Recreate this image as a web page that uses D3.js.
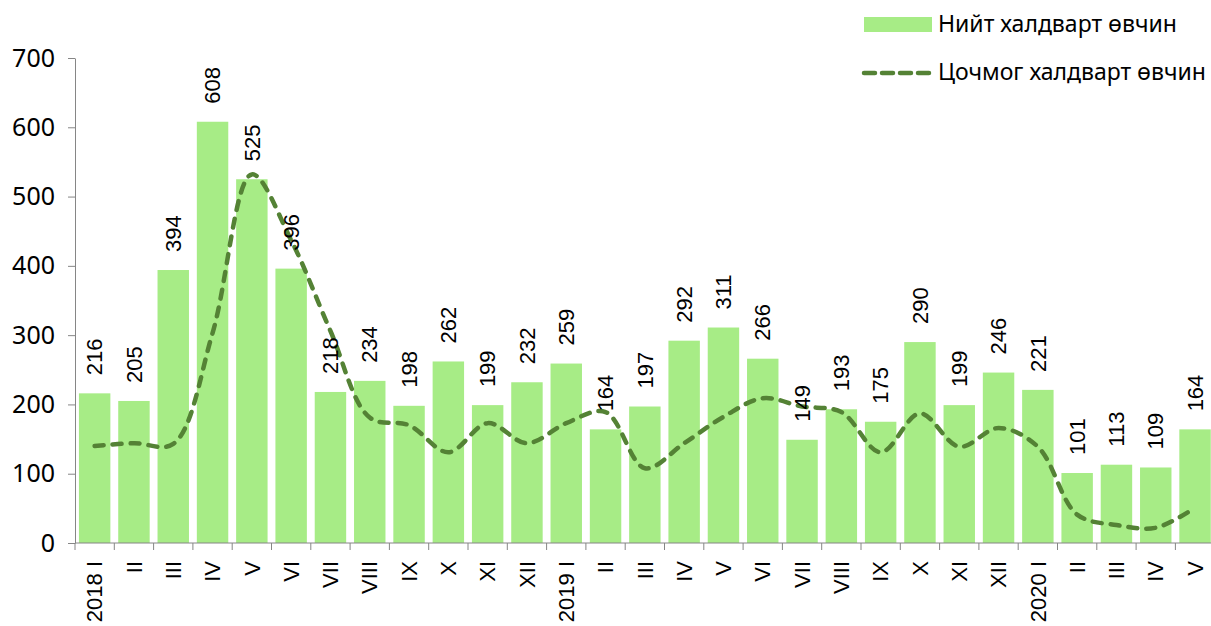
<!DOCTYPE html>
<head>
    <meta charset="utf-8">
    <title>Халдварт өвчин</title>
    <script src="https://d3js.org/d3.v7.min.js"></script>
</head>
<style>
body {
    margin: 0;
    background: #fff;
}
.axis path, .axis line {
    stroke: #868686;
    stroke-width: 1px;
}
</style>
<body>
    <svg></svg>
</body>
<script>
    // Categories (months)
    var vMonths = ['2018 I', 'II', 'III', 'IV', 'V', 'VI', 'VII', 'VIII', 'IX', 'X', 'XI', 'XII',
                   '2019 I', 'II', 'III', 'IV', 'V', 'VI', 'VII', 'VIII', 'IX', 'X', 'XI', 'XII',
                   '2020 I', 'II', 'III', 'IV', 'V'];
    // Total infectious disease (bars)
    var vTotal = [216, 205, 394, 608, 525, 396, 218, 234, 198, 262, 199, 232,
                  259, 164, 197, 292, 311, 266, 149, 193, 175, 290, 199, 246,
                  221, 101, 113, 109, 164];
    // Acute infectious disease (dashed line)
    var vAcute = [140, 144, 143, 303, 532, 437, 306, 181, 170, 131, 173, 144,
                  173, 189, 108, 144, 182, 209, 197, 189, 131, 187, 139, 166,
                  139, 41, 26, 22, 51];
    var vTicks = [0, 100, 200, 300, 400, 500, 600, 700];
    var vLegend = ['Нийт халдварт өвчин', 'Цочмог халдварт өвчин'];

    var vWidth = 1211;
    var vHeight = 626;
    var vBarColor = '#a7ec86';
    var vLineColor = '#548235';
    var vFont = "'Liberation Sans', Arial, sans-serif";
    var vFont2 = "'Noto Sans', 'Open Sans', sans-serif";

    var svg = d3.select('svg')
        .attr('width', vWidth)
        .attr('height', vHeight);

    var x = d3.scaleBand()
        .domain(d3.range(vMonths.length))
        .range([75, 75 + 29 * 39.3])
        .paddingInner(0.2)
        .paddingOuter(0.1);

    var y = d3.scaleLinear().domain([0, 700]).range([543, 58]);

    // bars
    svg.append('g').selectAll('rect').data(vTotal).enter().append('rect')
        .attr('x', function (d, i) { return x(i); })
        .attr('y', function (d) { return y(d); })
        .attr('width', x.bandwidth())
        .attr('height', function (d) { return y(0) - y(d); })
        .style('fill', vBarColor);

    // y axis
    var yAxis = svg.append('g').attr('class', 'axis')
        .attr('transform', 'translate(75,0)')
        .call(d3.axisLeft(y).tickValues(vTicks).tickSize(7).tickSizeOuter(0).tickPadding(13));
    yAxis.selectAll('text')
        .style('font-family', vFont2)
        .style('font-size', '25px')
        .style('fill', '#000');

    // x axis (ticks at category boundaries)
    var vStep = x.step();
    svg.append('g').attr('class', 'axis')
        .append('line')
        .attr('x1', 75).attr('x2', vWidth)
        .attr('y1', y(0)).attr('y2', y(0));
    svg.append('g').attr('class', 'axis').selectAll('line')
        .data(d3.range(vMonths.length + 1)).enter().append('line')
        .attr('x1', function (d) { return 75 + d * vStep; })
        .attr('x2', function (d) { return 75 + d * vStep; })
        .attr('y1', y(0)).attr('y2', y(0) + 7);

    // category labels, rotated
    svg.append('g').selectAll('text').data(vMonths).enter().append('text')
        .attr('transform', function (d, i) {
            return 'translate(' + (x(i) + x.bandwidth() / 2) + ',' + 561 + ')rotate(-90)';
        })
        .attr('text-anchor', 'end')
        .attr('dy', '0.35em')
        .style('font-family', vFont)
        .style('font-size', '22px')
        .text(function (d) { return d; });

    // smooth dashed line
    var vLine = d3.line()
        .x(function (d, i) { return x(i) + x.bandwidth() / 2; })
        .y(function (d) { return y(d); })
        .curve(d3.curveCatmullRom.alpha(0.5));

    svg.append('path')
        .datum(vAcute)
        .attr('d', vLine)
        .style('fill', 'none')
        .style('stroke', vLineColor)
        .style('stroke-width', 4.5)
        .style('stroke-linecap', 'round')
        .style('stroke-dasharray', '9,9');

    // value labels above bars
    svg.append('g').selectAll('text').data(vTotal).enter().append('text')
        .attr('transform', function (d, i) {
            return 'translate(' + (x(i) + x.bandwidth() / 2) + ',' + (y(d) - 18) + ')rotate(-90)';
        })
        .attr('text-anchor', 'start')
        .attr('dy', '0.35em')
        .style('font-family', vFont)
        .style('font-size', '22px')
        .text(function (d) { return d; });

    // legend
    var lg = svg.append('g');
    lg.append('rect')
        .attr('x', 864).attr('y', 17).attr('width', 68).attr('height', 15)
        .style('fill', vBarColor);
    lg.append('line')
        .attr('x1', 864).attr('x2', 932).attr('y1', 73).attr('y2', 73)
        .style('stroke', vLineColor)
        .style('stroke-width', 4.5)
        .style('stroke-linecap', 'round')
        .style('stroke-dasharray', '11,7');
    lg.selectAll('text').data(vLegend).enter().append('text')
        .attr('x', 938)
        .attr('y', function (d, i) { return 32 + i * 48; })
        .style('font-family', vFont2)
        .style('font-size', '23px')
        .text(function (d) { return d; });
</script>
